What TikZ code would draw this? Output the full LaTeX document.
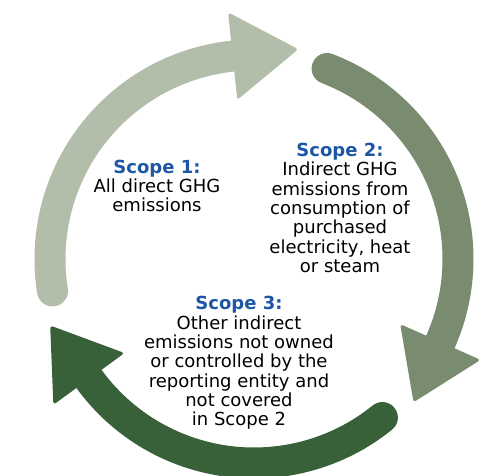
\documentclass[tikz,border=0pt]{standalone}
\usepackage{fontspec}
\setmainfont{DejaVu Sans}
\usetikzlibrary{calc}
\definecolor{scopelight}{RGB}{178,189,170}
\definecolor{scopemid}{RGB}{122,140,111}
\definecolor{scopedark}{RGB}{56,96,57}
\definecolor{scopeblue}{RGB}{30,86,166}

\begin{document}
\begin{tikzpicture}[x=1pt,y=1pt,
    band/.style={line width=31pt, line cap=round},
    headshape/.style={rounded corners=3pt},
    scopetext/.style={align=center, inner sep=0pt, font=\fontsize{18}{19.3}\selectfont},
    scopetitle/.style={font=\bfseries, text=scopeblue}]
  \useasboundingbox (-254,-217) rectangle (237,259);

  \draw[band, scopelight] (189:204) arc[start angle=189, end angle=96, radius=204];
  \fill[headshape, scopelight] (96:160) -- ($(96:204)+(6:66)$) -- (96:248) -- cycle;

  \draw[band, scopemid] (69:204) arc[start angle=69, end angle=-24, radius=204];
  \fill[headshape, scopemid] (-24:160) -- ($(-24:204)+(-114:66)$) -- (-24:248) -- cycle;

  \draw[band, scopedark] (-51:204) arc[start angle=-51, end angle=-144, radius=204];
  \fill[headshape, scopedark] (-144:160) -- ($(-144:204)+(-234:66)$) -- (-144:248) -- cycle;

  \node[scopetext] (scopeone) at (-97,73) {{\bfseries\color{scopeblue}Scope 1:}\\All direct GHG\\emissions};
  \node[scopetext] (scopetwo) at (86,51) {{\bfseries\color{scopeblue}Scope 2:}\\Indirect GHG\\emissions from\\consumption of\\purchased\\electricity, heat\\or steam};
  \node[scopetext] (scopethree) at (-15,-104) {{\bfseries\color{scopeblue}Scope 3:}\\Other indirect\\emissions not owned\\or controlled by the\\reporting entity and\\not covered\\in Scope 2};
\end{tikzpicture}
\end{document}
